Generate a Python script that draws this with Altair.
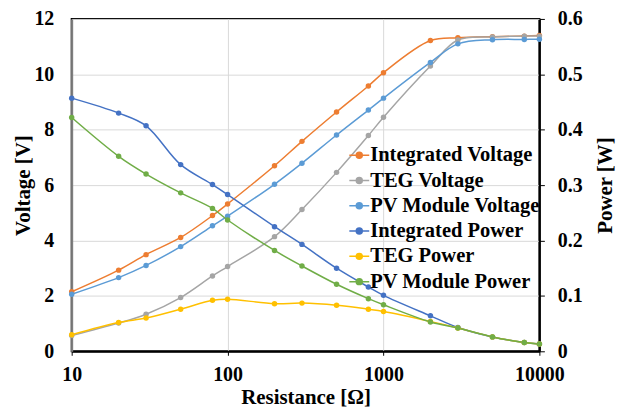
import altair as alt
import pandas as pd

resistance = [10, 20, 30, 50, 80, 100, 200, 300, 500, 800, 1000, 2000, 3000, 5000, 8000, 10000]

integrated_voltage = [2.15, 2.93, 3.49, 4.11, 4.90, 5.32, 6.70, 7.58, 8.64, 9.58, 10.06, 11.22, 11.32, 11.36, 11.38, 11.40]
teg_voltage = [0.57, 1.02, 1.34, 1.94, 2.72, 3.06, 4.14, 5.12, 6.46, 7.79, 8.45, 10.30, 11.24, 11.35, 11.38, 11.38]
pv_voltage = [2.06, 2.66, 3.10, 3.78, 4.53, 4.88, 6.03, 6.79, 7.81, 8.71, 9.14, 10.43, 11.10, 11.25, 11.26, 11.27]

integrated_power = [0.457, 0.430, 0.407, 0.337, 0.301, 0.283, 0.225, 0.193, 0.150, 0.116, 0.101, 0.064, 0.043, 0.026, 0.016, 0.013]
teg_power = [0.030, 0.052, 0.060, 0.076, 0.092, 0.094, 0.086, 0.087, 0.083, 0.076, 0.072, 0.054, 0.042, 0.026, 0.016, 0.013]
pv_power = [0.422, 0.352, 0.320, 0.286, 0.258, 0.237, 0.182, 0.154, 0.121, 0.095, 0.084, 0.053, 0.042, 0.026, 0.016, 0.013]

series_names = ["Integrated Voltage", "TEG Voltage", "PV Module Voltage",
                "Integrated Power", "TEG Power", "PV Module Power"]
series_colors = ["#ED7D31", "#A5A5A5", "#5B9BD5", "#4472C4", "#FFC000", "#70AD47"]

x_ticks = [10, 100, 1000, 10000]
v_ticks = [0, 2, 4, 6, 8, 10, 12]
p_ticks = [0, 0.1, 0.2, 0.3, 0.4, 0.5, 0.6]

rows_v = []
for name, vals in zip(series_names[:3], [integrated_voltage, teg_voltage, pv_voltage]):
    for r, v in zip(resistance, vals):
        rows_v.append({"R": r, "Voltage": v, "Series": name})
rows_p = []
for name, vals in zip(series_names[3:], [integrated_power, teg_power, pv_power]):
    for r, v in zip(resistance, vals):
        rows_p.append({"R": r, "Power": v, "Series": name})
dfv = pd.DataFrame(rows_v)
dfp = pd.DataFrame(rows_p)

FONT = "Liberation Serif"
TICK_FS = 20
TITLE_FS = 21

sym_path = ("M-1,0H1"
            "M-0.3,0A0.3,0.3,0,1,0,0.3,0A0.3,0.3,0,1,0,-0.3,0"
            "M-0.15,0A0.15,0.15,0,1,0,0.15,0A0.15,0.15,0,1,0,-0.15,0")

color = alt.Color(
    "Series:N",
    scale=alt.Scale(domain=series_names, range=series_colors),
    legend=alt.Legend(
        title=None, orient="none", legendX=278, legendY=126,
        symbolType=sym_path, symbolSize=400, symbolStrokeWidth=1.5,
        labelFontSize=20.6, labelFontWeight="bold",
        labelColor="black", labelLimit=400, labelOffset=0,
        rowPadding=3.4, padding=0,
    ),
)

x = alt.X(
    "R:Q",
    scale=alt.Scale(type="log", domain=[10, 10000], nice=False),
    axis=alt.Axis(
        values=x_ticks, format="d", title="Resistance [Ω]",
        labelFontSize=TICK_FS, labelFontWeight="bold", labelColor="black",
        labelFlush=False,
        titleFontSize=TITLE_FS, titleFontWeight="bold", titleColor="black",
        domainColor="black", domainWidth=2, tickColor="black", tickSize=4,
        labelPadding=9, titlePadding=2,
        grid=True, gridColor="#d9d9d9", gridWidth=1,
    ),
)

line_kw = dict(interpolate="catmull-rom", strokeWidth=1.5,
               point=alt.OverlayMarkDef(filled=True, size=30))

v_layer = alt.Chart(dfv).mark_line(**line_kw).encode(
    x=x,
    y=alt.Y(
        "Voltage:Q",
        scale=alt.Scale(domain=[0, 12], nice=False),
        axis=alt.Axis(
            values=v_ticks, title="Voltage [V]", orient="left",
            labelFontSize=TICK_FS, labelFontWeight="bold", labelColor="black",
            titleFontSize=TITLE_FS, titleFontWeight="bold", titleColor="black",
            titleX=-48, titleBaseline="middle",
            domainColor="#7f7f7f", domainWidth=2, ticks=False, tickSize=0,
            labelPadding=18, titlePadding=1,
            grid=True, gridColor="#d9d9d9", gridWidth=1,
        ),
    ),
    color=color,
)

p_layer = alt.Chart(dfp).mark_line(**line_kw).encode(
    x=x,
    y=alt.Y(
        "Power:Q",
        scale=alt.Scale(domain=[0, 0.6], nice=False),
        axis=alt.Axis(
            values=p_ticks, title="Power [W]", orient="right",
            labelExpr="datum.value == 0 ? '0' : format(datum.value, '.1f')",
            labelFontSize=TICK_FS, labelFontWeight="bold", labelColor="black",
            titleFontSize=TITLE_FS, titleFontWeight="bold", titleColor="black",
            titleAngle=270, titleX=66, titleBaseline="middle",
            domainColor="black", domainWidth=2, tickColor="black", tickSize=5,
            labelPadding=13, titlePadding=31, grid=False,
        ),
    ),
    color=color,
)

chart = alt.layer(v_layer, p_layer).resolve_scale(y="independent").properties(
    width=470, height=334,
    autosize=alt.AutoSizeParams(type="none"),
    padding={"left": 64, "top": 10, "right": 80, "bottom": 57},
).configure(
    font=FONT
).configure_axis(
    labelFont=FONT, titleFont=FONT
).configure_legend(
    labelFont=FONT
).configure_view(stroke="black", strokeWidth=2)

chart.save("out.html", embed_options={"renderer": "svg", "actions": False})
